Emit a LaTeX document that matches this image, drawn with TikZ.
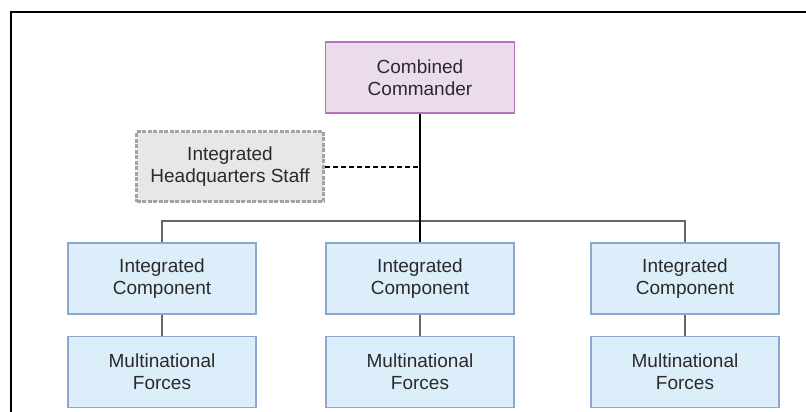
\documentclass[tikz,border=0pt]{standalone}
\usepackage{fontspec}
\setmainfont{Liberation Sans}
\usepackage{tikz}
\usetikzlibrary{positioning}
\definecolor{cmdfill}{HTML}{EADCEB}
\definecolor{cmdline}{HTML}{B574B8}
\definecolor{unitfill}{HTML}{DDEEFB}
\definecolor{unitline}{HTML}{8EA7CF}
\definecolor{stafffill}{HTML}{E6E7E8}
\definecolor{staffline}{HTML}{A3A3A3}
\definecolor{txt}{HTML}{2A2A2A}

\begin{document}
\begin{tikzpicture}[
    x=1pt, y=-1pt,
    every node/.style={rectangle, align=center, inner sep=0pt, text=txt,
        font=\fontsize{19}{22}\selectfont},
    unit/.style={draw=unitline, fill=unitfill, line width=1.2pt,
        minimum width=188pt, minimum height=71pt},
    cmd/.style={draw=cmdline, fill=cmdfill, line width=1.2pt,
        minimum width=189pt, minimum height=71pt},
    staff/.style={draw=staffline, fill=stafffill, line width=3pt,
        dash pattern=on 4pt off 1.5pt, minimum width=187pt, minimum height=70pt},
    link/.style={draw=black!60, line width=1.8pt}
]
\useasboundingbox (0,0) rectangle (806,412);
% frame
\draw[line width=2pt] (10.5,412) -- (10.5,12.5) -- (806,12.5);

% top of the chart
\node[cmd] (cc) at (420,77.5) {Combined\\Commander};
\node[staff] (hq) at (230,166.5) {Integrated\\Headquarters Staff};

% components and forces
\node[unit] (ic1) at (162,278.5) {Integrated\\Component};
\node[unit] (ic2) at (420,278.5) {Integrated\\Component};
\node[unit] (ic3) at (685,278.5) {Integrated\\Component};
\node[unit] (mf1) at (162,372) {Multinational\\Forces};
\node[unit] (mf2) at (420,372) {Multinational\\Forces};
\node[unit] (mf3) at (685,372) {Multinational\\Forces};

\coordinate (bus) at (420,221);
\draw[link] (ic1.north) |- (bus) -| (ic3.north);
\draw[line width=1.8pt] (cc.south) -- (ic2.north);
\draw[line width=2pt, dash pattern=on 5pt off 3pt] (hq.east) -- (hq.east -| cc.south);
\foreach \i in {1,2,3}
    \draw[link] (ic\i.south) -- (mf\i.north);
\end{tikzpicture}
\end{document}
